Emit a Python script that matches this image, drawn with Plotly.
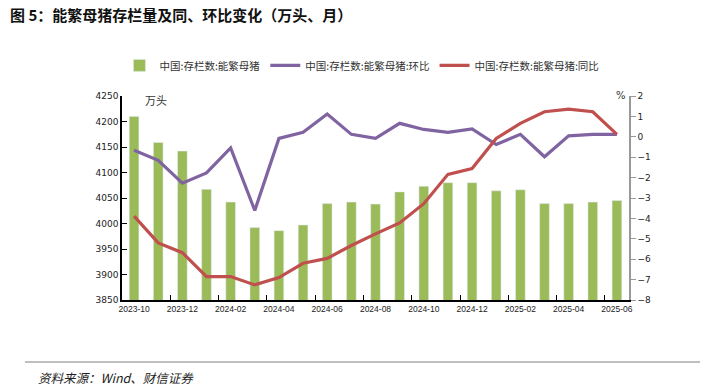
import plotly.graph_objects as go

months = ["2023-10","2023-11","2023-12","2024-01","2024-02","2024-03","2024-04","2024-05",
          "2024-06","2024-07","2024-08","2024-09","2024-10","2024-11","2024-12","2025-01",
          "2025-02","2025-03","2025-04","2025-05","2025-06"]
stock = [4210, 4159, 4142, 4067, 4042, 3992, 3986, 3997, 4039, 4042, 4038, 4062,
         4073, 4080, 4080, 4064, 4066, 4039, 4039, 4042, 4045]
mom = [-0.66, -1.15, -2.27, -1.77, -0.54, -3.61, -0.08, 0.22, 1.12, 0.12, -0.08, 0.66,
       0.36, 0.22, 0.39, -0.38, 0.12, -0.98, 0.05, 0.12, 0.12]
yoy = [-3.89, -5.2, -5.68, -6.85, -6.85, -7.26, -6.9, -6.2, -5.96, -5.33, -4.76, -4.22,
       -3.28, -1.84, -1.56, -0.08, 0.66, 1.23, 1.36, 1.23, 0.12]

idx = list(range(len(months)))
tickvals = idx[::2]
ticktext = months[::2]

green = "#9BBB59"
purple = "#8064A2"
red = "#C0504D"

fig = go.Figure()
fig.add_trace(go.Bar(x=idx, y=stock, name="中国:存栏数:能繁母猪", marker_color=green,
                     width=0.4, yaxis="y"))
fig.add_trace(go.Scatter(x=idx, y=mom, name="中国:存栏数:能繁母猪:环比", mode="lines",
                         line=dict(color=purple, width=3.2), yaxis="y2"))
fig.add_trace(go.Scatter(x=idx, y=yoy, name="中国:存栏数:能繁母猪:同比", mode="lines",
                         line=dict(color=red, width=3.2), yaxis="y2"))

ytickfont = dict(family="DejaVu Sans, Verdana, sans-serif", size=9, color="#222")
xtickfont = dict(family="Liberation Sans, Arial, sans-serif", size=8.5, color="#222")

fig.update_layout(
    width=711, height=386,
    margin=dict(l=122, r=82, t=96, b=86, autoexpand=False),
    paper_bgcolor="white", plot_bgcolor="white",
    showlegend=True,
    legend=dict(orientation="h", x=-0.005, y=1.15, xanchor="left", yanchor="middle",
                font=dict(family="Noto Sans CJK SC", size=10.5, color="#333"),
                itemwidth=30, tracegroupgap=0),
    title=dict(text="<b>图 5：能繁母猪存栏量及同、环比变化（万头、月）</b>",
               xref="container", yref="container", x=10/711, y=1-16/386,
               xanchor="left", yanchor="middle",
               font=dict(family="Noto Sans CJK SC", size=15, color="#111")),
    xaxis=dict(range=[-0.5, 20.5], tickmode="array", tickvals=tickvals, ticktext=ticktext,
               showline=True, linecolor="black", linewidth=1.5, ticks="", showgrid=False,
               zeroline=False, tickfont=xtickfont,
               minor=dict(tickmode="array", tickvals=[i + 1.5 for i in idx[::2]][:-1],
                          ticks="inside", ticklen=5, tickcolor="black", showgrid=False)),
    yaxis=dict(range=[3850, 4250], dtick=50, showline=True, linecolor="black", linewidth=1.5,
               ticks="inside", ticklen=5, tickcolor="black", showgrid=False, zeroline=False,
               tickfont=ytickfont),
    yaxis2=dict(range=[-8, 2], dtick=1, overlaying="y", side="right", showline=True,
                linecolor="#999", linewidth=1.5, ticks="outside", ticklen=5, tickcolor="#999",
                showgrid=False, zeroline=False, tickfont=ytickfont),
    bargap=0.6,
)

fig.add_annotation(text="万头", xref="paper", yref="paper", x=(143-122)/507, y=(300-100)/204,
                   showarrow=False, font=dict(family="Noto Sans CJK SC", size=11, color="#333"),
                   xanchor="left", yanchor="middle")
fig.add_annotation(text="%", xref="paper", yref="paper", x=(628-122)/507, y=(300-95)/204,
                   showarrow=False, font=dict(family="DejaVu Sans", size=10, color="#333"),
                   xanchor="right", yanchor="middle")
fig.add_annotation(text="<i>资料来源：Wind、财信证券</i>", xref="paper", yref="paper",
                   x=(36-122)/507, y=(300-377)/204, showarrow=False,
                   font=dict(family="Noto Sans CJK SC", size=12.5, color="#222"),
                   xanchor="left", yanchor="middle")
fig.add_shape(type="line", xref="paper", yref="paper", x0=(25-122)/507, x1=(700-122)/507,
              y0=(300-362)/204, y1=(300-362)/204, line=dict(color="#aaa", width=1.5))

fig.write_html("out.html", config={"displayModeBar": False},
               post_script="document.body.style.margin='0';document.body.style.overflow='hidden';")
